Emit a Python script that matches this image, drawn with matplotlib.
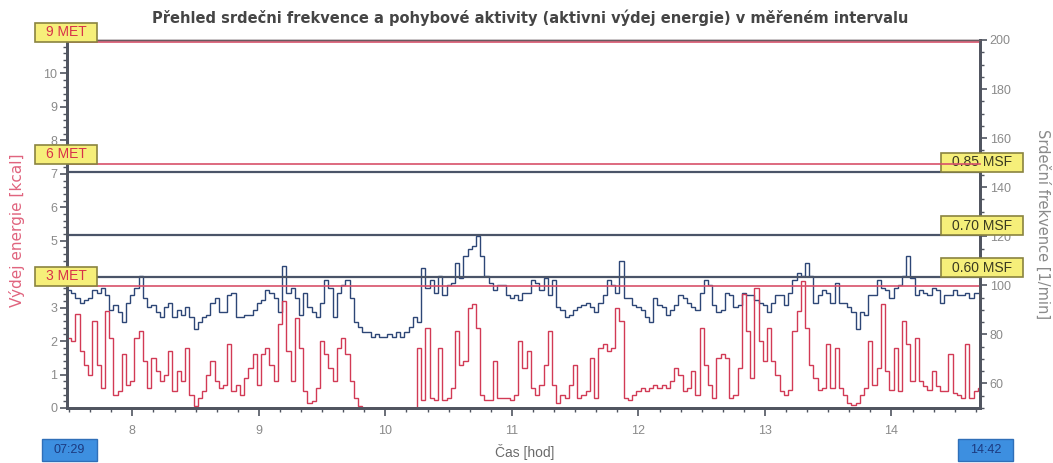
import numpy as np
import matplotlib
matplotlib.use('Agg')
import matplotlib.pyplot as plt
from matplotlib.patches import Rectangle
from matplotlib.lines import Line2D
from matplotlib.ticker import MultipleLocator

plt.rcParams['font.family'] = ['Liberation Sans', 'DejaVu Sans']

W, H = 1053, 463

# samples every 2 minutes starting 07:29
START_H = 7 + 29 / 60
END_H = 14 + 42 / 60
STEP_MIN = 2

hr = [98, 97, 95, 93, 94, 95, 98, 97, 99, 96, 90, 92, 89, 85, 93, 96, 99, 104, 95, 91,
      92, 89, 87, 91, 93, 87, 90, 88, 91, 87, 82, 85, 87, 88, 93, 95, 89, 89, 96, 97,
      87, 87, 88, 88, 90, 93, 94, 98, 97, 95, 89, 108, 97, 99, 95,
      88, 97, 91, 89, 87, 93, 102, 99, 87, 97, 100, 102, 95, 85, 83, 81, 81, 79, 80, 79,
      79, 80, 79, 81, 79, 81, 83, 87, 85, 107, 99, 102, 97,
      104, 96, 100, 101, 109, 103, 112, 115, 116, 120, 112, 104, 101, 98, 100, 100, 96, 95, 96, 94,
      97, 97, 102, 101, 98, 103, 96, 102, 91, 90,
      87, 88, 90, 91, 92, 93, 91, 89, 93, 96, 102, 100, 97, 110, 95, 95, 92, 91, 90, 87,
      85, 95, 92, 91, 88, 90, 92, 96, 95, 93, 91, 90, 97, 102, 100, 92, 89, 90, 97, 96,
      91, 92, 97, 96,
      96, 94, 93, 92, 89, 93, 96, 96, 92, 97, 102, 105, 104, 109, 104, 93, 96, 98, 97, 93,
      101, 93, 93, 91, 89, 82, 89, 88, 96, 96, 102, 99, 98, 95, 99, 100, 104, 112, 103, 96,
      98, 97, 96, 99, 98, 93, 96, 96, 98, 96, 96, 97, 95, 97, 97]

energy = [2.1, 2.0, 2.8, 1.7, 1.3, 1.0, 2.6, 1.3, 0.6, 2.9, 2.1, 0.4, 0.5, 1.6, 0.7, 0.8, 2.1, 2.3, 1.4, 0.6,
          1.5, 1.1, 0.8, 1.0, 1.7, 0.5, 1.1, 0.8, 1.8, 0.4, 0.05, 0.3, 0.5, 1.0, 1.4, 0.8, 0.6, 0.7, 1.9, 0.5,
          0.7, 0.4, 0.9, 1.2, 1.6, 0.7, 1.6, 1.8, 1.3, 0.8, 2.5, 3.2, 1.7, 0.8, 2.7,
          1.8, 0.5, 0.15, 0.2, 0.6, 2.0, 1.6, 1.2, 0.8, 1.8, 2.1, 1.6, 0.8, 0.3, 0.05,
          0, 0, 0, 0, 0, 0, 0, 0, 0, 0, 0, 0, 0,
          1.8, 0.25, 2.4, 0.3, 0.25, 1.8, 0.25, 0.3, 0.6, 2.3, 1.3, 1.4, 3.0, 3.1, 2.4, 0.4, 0.25, 0.25, 1.4, 0.3,
          0.3, 0.3, 0.25, 0.4, 2.0, 1.2, 1.7, 0.6, 0.4, 0.7, 1.3, 2.3, 0.7, 0.15, 0.4, 0.3, 0.7, 1.3, 0.3, 0.4,
          0.5, 1.5, 0.3, 1.8, 1.9, 1.7, 1.8, 3.0, 2.6, 0.3, 0.25, 0.4, 0.5, 0.6, 0.5, 0.6, 0.7, 0.6, 0.7, 0.6,
          0.8, 1.2, 1.0, 0.5, 0.6, 1.1, 0.4, 2.4,
          1.3, 0.7, 0.3, 1.5, 1.6, 1.5, 0.3, 0.4, 1.2, 3.4, 2.3,
          0.9, 3.6, 2.0, 1.4, 2.4, 1.4, 1.0, 0.5, 0.4, 0.55, 2.3, 2.9, 3.8, 2.4, 1.3, 0.9, 0.55, 0.6, 1.9, 0.6,
          1.8, 0.6, 0.4, 0.15, 0.1, 0.15, 0.4, 0.6, 2.0, 0.7, 1.2, 3.1, 1.1, 0.55, 1.8, 0.5, 2.6, 1.9, 0.8, 2.1,
          0.8, 0.65, 0.55, 1.1, 0.65, 0.5, 0.5, 1.6, 0.45, 0.4, 0.3, 1.9, 0.3, 0.5, 0.6]

met_levels = [3.65, 7.3, 10.95]
met_labels = ['3 MET', '6 MET', '9 MET']
msf_levels = [103.2, 120.4, 146.2]
msf_labels = ['0.60 MSF', '0.70 MSF', '0.85 MSF']
hour_ticks = [8, 9, 10, 11, 12, 13, 14]
kcal_ticks = list(range(12))
start_label, end_label = '07:29', '14:42'

RED = '#d23a55'
NAVY = '#2d4676'
SPINE = '#505560'
TICKLBL = '#8a8a8a'

edges = START_H + np.arange(len(hr) + 1) * STEP_MIN / 60

fig = plt.figure(figsize=(W / 100, H / 100), dpi=100)
ax = fig.add_axes([67 / W, 1 - 408 / H, (980 - 67) / W, (408 - 40) / H])
ax2 = ax.twinx()
ax.set_zorder(ax2.get_zorder() + 1)
ax.patch.set_visible(False)

ax.set_xlim(START_H, END_H)
ax.set_ylim(0, 11)
ax2.set_ylim(50, 200)

# heart rate (right axis) and energy expenditure (left axis)
ax2.stairs(hr, edges, baseline=None, color=NAVY, lw=1.0)
ax.stairs(energy, edges, baseline=None, color=RED, lw=1.0)

for lv in msf_levels:
    ax2.axhline(lv, color='#4a5468', lw=1.6)
for lv in met_levels:
    ax.axhline(lv, color='#d8506a', lw=1.2)

ax.set_xticks(hour_ticks)
ax.xaxis.set_minor_locator(MultipleLocator(1 / 6))
# labels 4 and 11 sit under the MET boxes
ax.set_yticks(kcal_ticks)
ax.set_yticklabels(['' if k in (4, 11) else str(k) for k in kcal_ticks])
ax.yaxis.set_minor_locator(MultipleLocator(0.2))
ax2.yaxis.set_major_locator(MultipleLocator(20))
ax2.yaxis.set_minor_locator(MultipleLocator(5))

ax.tick_params(axis='both', which='major', length=5, width=1.2, color=SPINE,
               labelsize=9, labelcolor=TICKLBL, pad=2)
ax.tick_params(axis='both', which='minor', length=3, width=1, color=SPINE)
ax.tick_params(axis='x', which='major', length=6, pad=6)
ax2.tick_params(axis='y', which='major', length=5, width=1.2, color=SPINE,
                labelsize=9, labelcolor=TICKLBL, pad=2)
ax2.tick_params(axis='y', which='minor', length=3, width=1, color=SPINE)

for a in (ax, ax2):
    for side in ('left', 'right', 'bottom'):
        a.spines[side].set_color(SPINE)
        a.spines[side].set_linewidth(2)
    a.spines['top'].set_color('#6a5a60')
    a.spines['top'].set_linewidth(1)

fig.text(530 / W, 1 - 18 / H,
         'Přehled srdečni frekvence a pohybové aktivity (aktivni výdej energie) v měřeném intervalu',
         ha='center', va='center', fontsize=10.5, fontweight='bold', color='#454545',
         family='DejaVu Sans')
fig.text(17 / W, 1 - 230 / H, 'Výdej energie [kcal]', rotation=90,
         ha='center', va='center', fontsize=11, color='#e0647e', family='DejaVu Sans')
fig.text(1043 / W, 1 - 224 / H, 'Srdeční frekvence [1/min]', rotation=270,
         ha='center', va='center', fontsize=10.5, color='#8a8a8a', family='DejaVu Sans')
fig.text(525 / W, 1 - 452 / H, 'Čas [hod]', ha='center', va='center',
         fontsize=10, color='#6a6a6a')


def level_box(a, level, label, x0, x1, txt_color):
    y_disp = a.transData.transform((START_H, level))[1]
    yf = fig.transFigure.inverted().transform((0, y_disp))[1]
    h = 19 / H
    fig.add_artist(Rectangle((x0 / W, yf), (x1 - x0) / W, h, transform=fig.transFigure,
                             fc='#f6ef7a', ec='#8a8440', lw=1.2, zorder=5))
    fig.text((x0 + x1) / 2 / W, yf + h / 2, label, ha='center', va='center',
             fontsize=10, color=txt_color, zorder=6)
    return yf


for lv, lbl in zip(met_levels, met_labels):
    level_box(ax, lv, lbl, 35, 97, '#d8324a')
for lv, lbl in zip(msf_levels, msf_labels):
    level_box(ax2, lv, lbl, 941, 1023, '#3a3a20')

# the 6 MET line runs across the 0.85 MSF box
y6 = ax.transData.transform((START_H, met_levels[1]))[1]
y6f = fig.transFigure.inverted().transform((0, y6))[1]
fig.add_artist(Line2D([941 / W, 980 / W], [y6f, y6f], transform=fig.transFigure,
                      color='#d8506a', lw=1.2, zorder=7))

# interval start / end stamps
for x0, x1, lbl in [(42, 97, start_label), (958, 1013, end_label)]:
    fig.add_artist(Rectangle((x0 / W, 1 - 461 / H), (x1 - x0) / W, 22 / H,
                             transform=fig.transFigure, fc='#3d8fe0', ec='#2f6fb8', lw=1))
    fig.text((x0 + x1) / 2 / W, 1 - 450 / H, lbl, ha='center', va='center',
             fontsize=9, color='#1c3a80')

fig.savefig('out.png', dpi=100)
